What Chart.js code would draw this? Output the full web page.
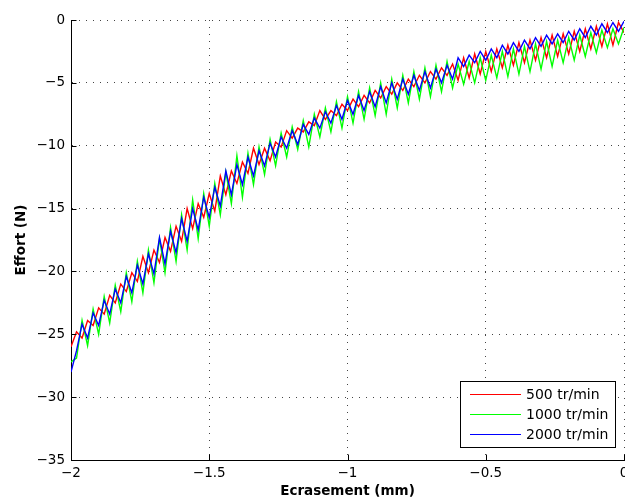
<!DOCTYPE html>
<html>
<head>
<meta charset="utf-8">
<script src="https://cdn.jsdelivr.net/npm/chart.js@4.4.1/dist/chart.umd.min.js"></script>
<style>
  html, body { margin: 0; padding: 0; background: #fff; }
  canvas { display: block; }
</style>
</head>
<body>
<canvas id="c" width="625" height="500"></canvas>
<script>
const xValues = [-2.00,-1.98,-1.96,-1.94,-1.92,-1.90,-1.88,-1.86,-1.84,-1.82,-1.80,-1.78,-1.76,-1.74,-1.72,-1.70,-1.68,-1.66,-1.64,-1.62,-1.60,-1.58,-1.56,-1.54,-1.52,-1.50,-1.48,-1.46,-1.44,-1.42,-1.40,-1.38,-1.36,-1.34,-1.32,-1.30,-1.28,-1.26,-1.24,-1.22,-1.20,-1.18,-1.16,-1.14,-1.12,-1.10,-1.08,-1.06,-1.04,-1.02,-1.00,-0.98,-0.96,-0.94,-0.92,-0.90,-0.88,-0.86,-0.84,-0.82,-0.80,-0.78,-0.76,-0.74,-0.72,-0.70,-0.68,-0.66,-0.64,-0.62,-0.60,-0.58,-0.56,-0.54,-0.52,-0.50,-0.48,-0.46,-0.44,-0.42,-0.40,-0.38,-0.36,-0.34,-0.32,-0.30,-0.28,-0.26,-0.24,-0.22,-0.20,-0.18,-0.16,-0.14,-0.12,-0.10,-0.08,-0.06,-0.04,-0.02,0.00];

const effort500 = [
  -26.0,-24.8,-25.3,-23.9,-24.3,-22.9,-23.4,-21.9,-22.5,-21.0,
  -21.6,-20.1,-20.8,-18.8,-20.1,-18.3,-19.3,-17.3,-18.4,-16.4,
  -17.6,-15.0,-16.6,-14.6,-15.7,-13.8,-15.2,-12.4,-13.9,-12.0,
  -13.0,-11.3,-12.2,-10.2,-11.5,-10.2,-11.2,-9.7,-10.1,-8.8,
  -9.4,-8.6,-8.9,-8.1,-8.4,-7.2,-7.9,-7.2,-7.6,-6.7,
  -7.2,-6.3,-6.9,-6.0,-6.6,-5.6,-6.2,-5.3,-5.9,-5.0,
  -5.6,-4.7,-5.3,-4.4,-5.0,-4.1,-4.7,-3.8,-4.4,-3.5,
  -4.8,-3.0,-4.6,-2.7,-4.3,-2.5,-4.1,-2.3,-3.8,-2.0,
  -3.6,-1.8,-3.4,-1.6,-3.2,-1.4,-3.0,-1.2,-2.9,-1.1,
  -2.7,-0.9,-2.5,-0.7,-2.3,-0.5,-2.1,-0.3,-2.0,-0.2,
  -1.0];

const effort1000 = [
  -27.2,-26.9,-23.9,-25.9,-23.0,-25.0,-22.0,-24.1,-21.1,-23.2,
  -20.1,-22.4,-19.2,-21.7,-18.3,-20.9,-17.4,-20.1,-16.5,-19.2,
  -15.5,-18.3,-14.3,-17.4,-13.8,-16.4,-13.0,-15.5,-12.1,-14.6,
  -10.8,-14.1,-10.6,-13.1,-10.1,-12.3,-9.5,-11.6,-9.0,-10.9,
  -8.5,-10.3,-8.0,-10.1,-7.5,-9.3,-7.0,-8.9,-6.5,-8.6,
  -6.1,-8.2,-5.7,-7.9,-5.4,-7.6,-5.0,-7.5,-4.7,-7.0,
  -4.4,-6.6,-4.1,-6.3,-3.8,-6.1,-3.6,-5.7,-3.3,-5.4,
  -3.5,-5.1,-3.3,-5.0,-3.0,-4.8,-2.8,-4.6,-2.5,-4.5,
  -2.3,-4.3,-2.1,-4.1,-1.9,-3.9,-1.7,-3.7,-1.6,-3.4,
  -1.4,-3.2,-1.2,-2.9,-1.0,-2.6,-0.8,-2.2,-0.7,-1.9,
  -0.6];

const effort2000 = [
  -28.0,-26.3,-24.2,-25.3,-23.3,-24.3,-22.3,-23.4,-21.4,-22.5,
  -20.4,-21.7,-19.5,-21.0,-18.6,-20.2,-17.3,-19.4,-16.8,-18.5,
  -15.8,-17.6,-15.0,-16.7,-14.1,-15.7,-13.3,-14.8,-12.0,-13.9,
  -11.5,-13.1,-10.9,-12.4,-10.4,-11.6,-9.8,-10.9,-9.3,-10.2,
  -8.8,-9.9,-8.3,-9.1,-7.8,-8.6,-7.3,-8.2,-6.8,-7.9,
  -6.4,-7.5,-6.0,-7.2,-5.7,-6.9,-5.3,-6.6,-5.0,-6.3,
  -4.7,-5.9,-4.4,-5.6,-4.1,-5.4,-3.9,-5.0,-3.6,-4.7,
  -3.0,-3.7,-2.8,-3.4,-2.5,-3.2,-2.3,-3.0,-2.0,-2.7,
  -1.8,-2.5,-1.6,-2.3,-1.4,-2.1,-1.2,-1.9,-1.1,-1.8,
  -0.9,-1.6,-0.7,-1.4,-0.5,-1.2,-0.3,-1.0,-0.2,-0.9,
  -0.1];

const seriesLabels = ['500 tr/min', '1000 tr/min', '2000 tr/min'];
const seriesColors = ['#ff0000', '#00ff00', '#0000ff'];
const seriesValues = [effort500, effort1000, effort2000];
const xTitle = 'Ecrasement (mm)';
const yTitle = 'Effort (N)';

const FONT = 'DejaVu Sans';
const minusFmt = v => (Math.abs(v) < 1e-9 ? '0' : (v < 0 ? '\u2212' + String(Math.abs(v)) : String(v)));

const datasets = seriesValues.map((vals, i) => ({
  label: seriesLabels[i],
  data: vals.map((y, j) => ({ x: xValues[j], y: y })),
  borderColor: seriesColors[i],
  backgroundColor: seriesColors[i],
  borderWidth: 1.4,
  pointRadius: 0,
  tension: 0,
  fill: false,
  order: 3 - i
}));

const overlay = {
  id: 'overlay',
  afterDraw(chart) {
    const ctx = chart.ctx;
    const xs = chart.scales.x, ys = chart.scales.y;
    const a = chart.chartArea;
    ctx.save();
    ctx.strokeStyle = '#000';
    ctx.lineWidth = 1;
    ctx.setLineDash([]);
    ys.ticks.forEach(t => {
      const py = Math.round(ys.getPixelForValue(t.value)) + 0.5;
      ctx.beginPath(); ctx.moveTo(a.left, py); ctx.lineTo(a.left + 5.5, py); ctx.stroke();
    });
    xs.ticks.forEach(t => {
      const px = Math.round(xs.getPixelForValue(t.value)) + 0.5;
      ctx.beginPath(); ctx.moveTo(px, a.bottom); ctx.lineTo(px, a.bottom - 5.5); ctx.stroke();
    });
    const bx = 460.5, by = 381.5, bw = 155, bh = 66;
    ctx.fillStyle = '#fff';
    ctx.fillRect(bx, by, bw, bh);
    ctx.strokeStyle = '#000';
    ctx.strokeRect(bx, by, bw, bh);
    ctx.font = '14px "' + FONT + '"';
    ctx.textBaseline = 'middle';
    ctx.textAlign = 'left';
    const rows = [394, 414, 434];
    chart.data.datasets.forEach((ds, i) => {
      ctx.strokeStyle = ds.borderColor;
      ctx.lineWidth = 1;
      ctx.beginPath(); ctx.moveTo(470, rows[i] + 0.5); ctx.lineTo(521, rows[i] + 0.5); ctx.stroke();
      ctx.fillStyle = '#000';
      ctx.fillText(ds.label, 526, rows[i] + 1);
    });
    ctx.restore();
  }
};

new Chart(document.getElementById('c'), {
  type: 'line',
  data: { datasets },
  options: {
    responsive: false,
    animation: false,
    events: [],
    layout: { padding: { left: 0, right: 1, top: 20, bottom: 0 } },
    plugins: { legend: { display: false }, tooltip: { enabled: false } },
    scales: {
      x: {
        type: 'linear',
        min: -2, max: 0,
        afterFit(s) { s.height = 40; s.paddingLeft = 0; s.paddingRight = 0; },
        ticks: {
          stepSize: 0.5,
          color: '#000',
          padding: 5,
          maxRotation: 0,
          font: { family: FONT, size: 13.5 },
          callback: v => minusFmt(v)
        },
        grid: { color: '#444', lineWidth: 1, drawTicks: false },
        border: { display: true, color: '#000', width: 1, dash: [1, 6] },
        title: {
          display: true, text: xTitle, color: '#000',
          font: { family: FONT, size: 13.5, weight: 'bold' },
          padding: { top: 0, bottom: 0 }
        }
      },
      y: {
        type: 'linear',
        min: -35, max: 0,
        afterFit(s) { s.width = 71; },
        ticks: {
          stepSize: 5,
          color: '#000',
          padding: 6,
          font: { family: FONT, size: 13.5 },
          callback: v => minusFmt(v)
        },
        grid: { color: '#444', lineWidth: 1, drawTicks: false },
        border: { display: true, color: '#000', width: 1, dash: [1, 6] },
        title: {
          display: true, text: yTitle, color: '#000',
          font: { family: FONT, size: 13.5, weight: 'bold' },
          padding: { top: 13, bottom: 0 }
        }
      }
    }
  },
  plugins: [overlay]
});
</script>
</body>
</html>
